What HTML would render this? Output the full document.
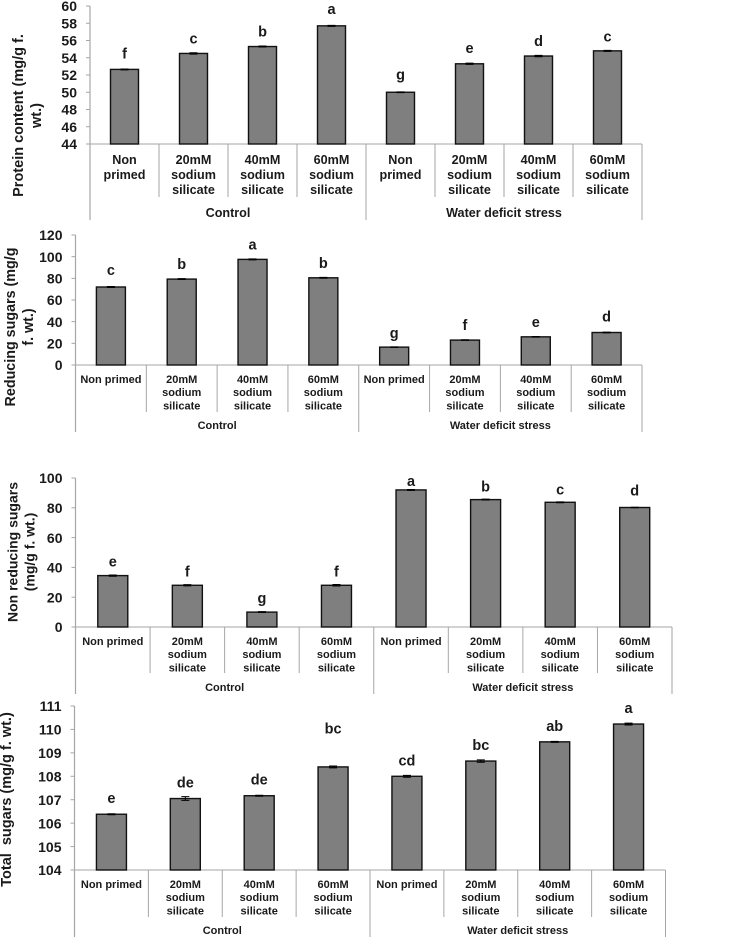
<!DOCTYPE html>
<html lang="en">
<head>
<meta charset="utf-8">
<title>Sugar and protein content bar charts</title>
<style>
html,body{margin:0;padding:0;background:#fff}
svg{display:block;width:742px;height:946px;font-family:"Liberation Sans",Arial,sans-serif;font-weight:bold;fill:#1a1a1a}
text{white-space:pre}
</style>
</head>
<body>
<svg id="figure" width="742" height="946" viewBox="0 0 742 946" xmlns="http://www.w3.org/2000/svg"></svg>
<script>
// Shared categories
const categories = [["Non","primed"],["20mM","sodium","silicate"],["40mM","sodium","silicate"],["60mM","sodium","silicate"],["Non","primed"],["20mM","sodium","silicate"],["40mM","sodium","silicate"],["60mM","sodium","silicate"]];
const singleLineCategories = [["Non primed"],["20mM","sodium","silicate"],["40mM","sodium","silicate"],["60mM","sodium","silicate"],["Non primed"],["20mM","sodium","silicate"],["40mM","sodium","silicate"],["60mM","sodium","silicate"]];
const groups = ["Control","Water deficit stress"];

// Protein content
const proteinValues = [52.65,54.5,55.3,57.7,50,53.3,54.2,54.8];
const proteinErrors = [0.05,0.08,0.06,0.06,0.05,0.07,0.08,0.06];
const proteinLetters = ["f","c","b","a","g","e","d","c"];
const proteinTicks = [44,46,48,50,52,54,56,58,60];
const proteinLetterLift = [0.1,0,0,0.2,0.3,0.1,0,-0.1];

// Reducing sugars
const reducingValues = [72,79.3,97.5,80.5,16.5,23,26,30];
const reducingErrors = [0.5,0.4,0.5,0.4,0.2,0.3,0.3,0.3];
const reducingLetters = ["c","b","a","b","g","f","e","d"];
const reducingTicks = [0,20,40,60,80,100,120];
const reducingLetterLift = [2,0,0,0,-1,0,0,1];

// Non reducing sugars
const nonReducingValues = [34.5,28,10,28,92,85.5,83.7,80.2];
const nonReducingErrors = [0.4,0.4,0.3,0.5,0.3,0.3,0.3,0.2];
const nonReducingLetters = ["e","f","g","f","a","b","c","d"];
const nonReducingTicks = [0,20,40,60,80,100];
const nonReducingLetterLift = [0,0,0,0,-3.4,-0.7,-0.7,2];

// Total sugars
const totalValues = [106.38,107.05,107.17,108.4,108,108.65,109.47,110.23];
const totalErrors = [0.02,0.08,0.02,0.04,0.04,0.05,0.02,0.04];
const totalLetters = ["e","de","de","bc","cd","bc","ab","a"];
const totalTicks = [104,105,106,107,108,109,110,111];
const totalLetterLift = [0,0,0,0.95,0,0,0,0];

const svg = document.getElementById('figure');
const NS = 'http://www.w3.org/2000/svg';
const AXIS = '#a6a6a6';

function make(parent, tag, props, text){
  const el = document.createElementNS(NS, tag);
  for (const k in props) el.setAttribute(k, props[k]);
  if (text !== undefined) el.textContent = text;
  parent.appendChild(el);
  return el;
}
function axisLine(parent, x1, y1, x2, y2, sw){
  return make(parent, 'line', {x1:x1, y1:y1, x2:x2, y2:y2, stroke:AXIS, 'stroke-width':sw || 1});
}

function drawChart(c){
  const g = make(svg, 'g', {});
  
  
  const min = c.ticks[0], max = c.ticks[c.ticks.length - 1];
  const yScale = v => c.bottom - (v - min) / (max - min) * (c.bottom - c.top);
  const band = (c.right - c.left) / c.values.length;
  const xCenter = i => c.left + band * (i + 0.5);

  // y axis
  const yAxis = axisLine(g, c.left, c.top, c.left, c.outerBottom, 1.2);
  
  
  c.ticks.forEach(t => {
    const tk = axisLine(g, c.left - 4, yScale(t), c.left, yScale(t));
    
    
    const lb = make(g, 'text', {x:c.left - 13, y:yScale(t) + 5.2, 'text-anchor':'end', 'font-size':c.tickSize}, String(t));
    
    
  });

  // x axis
  const xAxis = axisLine(g, c.left, c.bottom, c.right, c.bottom);
  
  
  for (let i = 1; i < c.values.length; i++){
    if (i === c.values.length / 2) continue;
    const sep = axisLine(g, c.left + band * i, c.bottom, c.left + band * i, c.sepBottom);
    
    
  }
  [c.left + band * c.values.length / 2, c.right].forEach(x => {
    const sep = axisLine(g, x, c.bottom, x, c.outerBottom);
    
    
  });

  // bars, errors, letters, categories
  c.values.forEach((v, i) => {
    const cx = xCenter(i), y = yScale(v);
    const bar = make(g, 'rect', {x:cx - c.barW / 2, y:y, width:c.barW, height:c.bottom - y, fill:'#7f7f7f', stroke:'#111', 'stroke-width':1.4});
    
    

    const hi = yScale(v + c.errors[i]), lo = yScale(v - c.errors[i]);
    const err = make(g, 'path', {d:'M' + (cx - 4) + ' ' + hi + 'H' + (cx + 4) + 'M' + cx + ' ' + hi + 'V' + lo + 'M' + (cx - 4) + ' ' + lo + 'H' + (cx + 4), stroke:'#000', 'stroke-width':1, fill:'none'});
    
    

    const lift = c.letterLift[i];
    const letter = make(g, 'text', {x:cx, y:yScale(v + lift) - c.letterGap, 'text-anchor':'middle', 'font-size':14.5}, c.letters[i]);
    
    

    const cat = make(g, 'text', {'text-anchor':'middle', 'font-size':c.catSize});
    
    
    c.cats[i].forEach((line, k) => {
      make(cat, 'tspan', {x:cx, y:c.bottom + c.catFirst + k * c.catLead}, line);
    });
  });

  // group labels
  groups.forEach((name, k) => {
    const gx = c.left + band * c.values.length / 4 * (1 + 2 * k);
    const lb = make(g, 'text', {x:gx, y:c.groupY, 'text-anchor':'middle', 'font-size':c.catSize}, name);
    
    
  });

  // y title
  const title = make(g, 'text', {transform:'translate(' + c.titleX + ' ' + c.titleY + ') rotate(-90)', 'text-anchor':'middle', 'font-size':c.titleSize});
  
  
  c.title.forEach((line, k) => {
    make(title, 'tspan', {x:0, y:k * c.titleLead}, line);
  });
}

drawChart({name:'protein', values:proteinValues, errors:proteinErrors, letters:proteinLetters, ticks:proteinTicks, cats:categories, letterLift:proteinLetterLift,
  left:90, right:642, top:6, bottom:144, sepBottom:197, outerBottom:220, barW:28, tickSize:14, catSize:12.6, catFirst:20, catLead:15, groupY:217, letterGap:10,
  title:['Protein content (mg/g f.','wt.)'], titleX:23, titleY:115.5, titleSize:14.5, titleLead:18});
drawChart({name:'reducing-sugars', values:reducingValues, errors:reducingErrors, letters:reducingLetters, ticks:reducingTicks, cats:singleLineCategories, letterLift:reducingLetterLift,
  left:75.5, right:642, top:235, bottom:365, sepBottom:412, outerBottom:432, barW:29, tickSize:14, catSize:11, catFirst:18, catLead:13.2, groupY:429, letterGap:10,
  title:['Reducing sugars (mg/g','f. wt.)'], titleX:15, titleY:327, titleSize:14.3, titleLead:18});
drawChart({name:'non-reducing-sugars', values:nonReducingValues, errors:nonReducingErrors, letters:nonReducingLetters, ticks:nonReducingTicks, cats:singleLineCategories, letterLift:nonReducingLetterLift,
  left:75.5, right:672, top:478, bottom:627, sepBottom:673, outerBottom:694, barW:30, tickSize:14, catSize:11, catFirst:18, catLead:13.2, groupY:691, letterGap:9,
  title:['Non reducing sugars','(mg/g f. wt.)'], titleX:17.5, titleY:552, titleSize:14, titleLead:17});
drawChart({name:'total-sugars', values:totalValues, errors:totalErrors, letters:totalLetters, ticks:totalTicks, cats:singleLineCategories, letterLift:totalLetterLift,
  left:74.5, right:665.5, top:706, bottom:870, sepBottom:917, outerBottom:937, barW:30, tickSize:14, catSize:11, catFirst:18, catLead:13.2, groupY:934, letterGap:11,
  title:['Total  sugars (mg/g f. wt.)'], titleX:11, titleY:799.5, titleSize:14.5, titleLead:18});
</script>
</body>
</html>
